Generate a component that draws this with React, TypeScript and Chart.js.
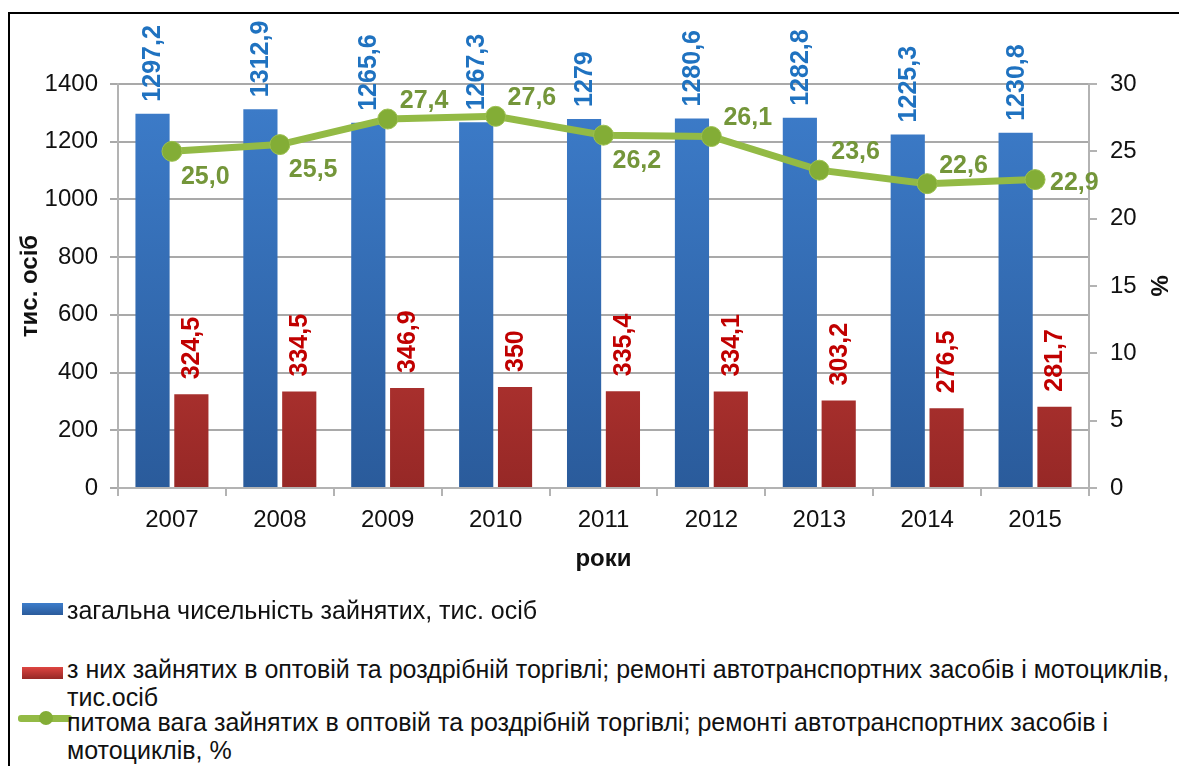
import React, { useEffect, useRef } from "react";
import { Chart, registerables } from "chart.js";

Chart.register(...registerables);

const years = ["2007", "2008", "2009", "2010", "2011", "2012", "2013", "2014", "2015"];
const totalEmployed = [1297.2, 1312.9, 1265.6, 1267.3, 1279, 1280.6, 1282.8, 1225.3, 1230.8];
const tradeEmployed = [324.5, 334.5, 346.9, 350, 335.4, 334.1, 303.2, 276.5, 281.7];
const tradeShare = [25.0, 25.5, 27.4, 27.6, 26.2, 26.1, 23.6, 22.6, 22.9];
const leftAxis = { min: 0, max: 1400, step: 200 };
const rightAxis = { min: 0, max: 30, step: 5 };
const sharePlacement = ["below", "below", "above", "above", "below", "above", "above", "above", "right"];

const seriesNames = [
  "загальна чисельність зайнятих, тис. осіб",
  "з них зайнятих в оптовій та роздрібній торгівлі; ремонті автотранспортних засобів і мотоциклів,|тис.осіб",
  "питома вага зайнятих в оптовій та роздрібній торгівлі; ремонті автотранспортних засобів і|мотоциклів, %",
];
const axisTitles = { left: "тис. осіб", right: "%", bottom: "роки" };

const FONT = "'Liberation Sans', Arial, sans-serif";
const BLUE_LABEL = "#1f72c0";
const RED_LABEL = "#c00000";
const GREEN_LABEL = "#74963a";

const fmtBar = (v: number) => String(v).replace(".", ",");
const fmtShare = (v: number) => v.toFixed(1).replace(".", ",");

function gradient(chart: any, top: string, bottom: string) {
  const area = chart.chartArea;
  if (!area) return top;
  const g = chart.ctx.createLinearGradient(0, area.top, 0, area.bottom);
  g.addColorStop(0, top);
  g.addColorStop(1, bottom);
  return g;
}

const labelPlugin = {
  id: "valueLabels",
  afterDatasetsDraw(chart: any) {
    const ctx = chart.ctx;
    ctx.save();
    const blue = chart.getDatasetMeta(0);
    const red = chart.getDatasetMeta(1);
    const line = chart.getDatasetMeta(2);
    ctx.font = `bold 25px ${FONT}`;
    ctx.textBaseline = "middle";
    ctx.textAlign = "left";
    blue.data.forEach((el: any, i: number) => {
      ctx.save();
      ctx.translate(el.x + 1, el.y - 12);
      ctx.rotate(-Math.PI / 2);
      ctx.fillStyle = BLUE_LABEL;
      ctx.fillText(fmtBar(totalEmployed[i]), 0, 0);
      ctx.restore();
    });
    red.data.forEach((el: any, i: number) => {
      ctx.save();
      ctx.translate(el.x + 1, el.y - 15);
      ctx.rotate(-Math.PI / 2);
      ctx.fillStyle = RED_LABEL;
      ctx.fillText(fmtBar(tradeEmployed[i]), 0, 0);
      ctx.restore();
    });
    ctx.font = `bold 25px ${FONT}`;
    ctx.fillStyle = GREEN_LABEL;
    line.data.forEach((el: any, i: number) => {
      const p = sharePlacement[i];
      let dx = 9, dy = 26;
      if (p === "above") { dx = 12; dy = -18; }
      if (p === "right") { dx = 15; dy = 3; }
      ctx.fillText(fmtShare(tradeShare[i]), el.x + dx, el.y + dy);
    });
    ctx.restore();
  },
};

function LegendRow({ top, icon, text }: { top: number; icon: React.ReactNode; text: string }) {
  const lines = text.split("|");
  return (
    <div style={{ position: "absolute", left: 0, top, width: 1179 }}>
      {icon}
      <div style={{ position: "absolute", left: 67, top: 0, font: `25px ${FONT}`, lineHeight: "28px", color: "#111", whiteSpace: "nowrap" }}>
        {lines.map((l, i) => (
          <div key={i}>{l}</div>
        ))}
      </div>
    </div>
  );
}

export default function App() {
  const ref = useRef<HTMLCanvasElement>(null);
  useEffect(() => {
    if (!ref.current) return;
    const chart = new Chart(ref.current, {
      type: "bar",
      data: {
        labels: years,
        datasets: [
          {
            type: "bar",
            label: seriesNames[0],
            data: totalEmployed,
            yAxisID: "y",
            backgroundColor: (c: any) => gradient(c.chart, "#3d7dcb", "#2a5b9b"),
            barPercentage: 0.88,
            categoryPercentage: 0.72,
            order: 2,
          },
          {
            type: "bar",
            label: seriesNames[1],
            data: tradeEmployed,
            yAxisID: "y",
            backgroundColor: (c: any) => gradient(c.chart, "#de4541", "#962826"),
            barPercentage: 0.88,
            categoryPercentage: 0.72,
            order: 2,
          },
          {
            type: "line",
            label: seriesNames[2],
            data: tradeShare,
            yAxisID: "y1",
            borderColor: "#93ba45",
            borderWidth: 7,
            backgroundColor: "#83ad36",
            pointRadius: 10,
            pointBorderWidth: 1,
            pointBorderColor: "#9cc050",
            tension: 0,
            order: 0,
          } as any,
        ],
      },
      options: {
        responsive: false,
        animation: false,
        devicePixelRatio: 1,
        layout: { padding: { top: 84, left: 0, right: 0, bottom: 0 } },
        plugins: { legend: { display: false }, tooltip: { enabled: false } },
        scales: {
          x: {
            grid: { offset: true, drawOnChartArea: false, drawTicks: true, tickLength: 8, color: "#b3b3b3", lineWidth: 2 },
            border: { color: "#b3b3b3", width: 2 },
            ticks: { font: { size: 24, family: FONT }, color: "#111", padding: 10 },
            title: { display: true, text: axisTitles.bottom, font: { size: 24, weight: "bold", family: FONT }, color: "#111", padding: { top: 0, bottom: 26 } },
            afterFit: (s: any) => { s.height = 112; },
          },
          y: {
            position: "left",
            min: leftAxis.min,
            max: leftAxis.max,
            ticks: { stepSize: leftAxis.step, font: { size: 24, family: FONT }, color: "#111", padding: 12, callback: (v: any) => String(v) },
            grid: { color: "#a9a9a9", lineWidth: 2, tickLength: 8 },
            border: { color: "#b3b3b3", width: 2 },
            title: { display: true, text: axisTitles.left, font: { size: 24, weight: "bold", family: FONT }, color: "#111", padding: { top: 16, bottom: 0 } },
            afterFit: (s: any) => { s.width = 118; },
          },
          y1: {
            position: "right",
            min: rightAxis.min,
            max: rightAxis.max,
            ticks: { stepSize: rightAxis.step, font: { size: 24, family: FONT }, color: "#111", padding: 13, callback: (v: any) => String(v) },
            grid: { drawOnChartArea: false, color: "#b3b3b3", lineWidth: 2, tickLength: 8 },
            border: { color: "#b3b3b3", width: 2 },
            title: { display: true, text: axisTitles.right, font: { size: 24, weight: "bold", family: FONT }, color: "#111", padding: { top: 7, bottom: 0 } },
            afterFit: (s: any) => { s.width = 90; },
          },
        },
      } as any,
      plugins: [labelPlugin],
    });
    return () => chart.destroy();
  }, []);

  return (
    <div style={{ position: "fixed", left: 0, top: 0, width: 1179, height: 766, overflow: "hidden", background: "#fff" }}>
      <div style={{ position: "absolute", left: 8, top: 12, width: 1200, height: 800, borderTop: "2px solid #000", borderLeft: "2px solid #000" }} />
      <canvas ref={ref} width={1179} height={600} style={{ position: "absolute", left: 0, top: 0, display: "block" }} />
      <LegendRow
        top={596}
        icon={<div style={{ position: "absolute", left: 22, top: 7, width: 41, height: 12, background: "linear-gradient(#3d7dcb,#2a5b9b)" }} />}
        text={seriesNames[0]}
      />
      <LegendRow
        top={655}
        icon={<div style={{ position: "absolute", left: 22, top: 12, width: 41, height: 12, background: "linear-gradient(#de4541,#962826)" }} />}
        text={seriesNames[1]}
      />
      <LegendRow
        top={708}
        icon={
          <div style={{ position: "absolute", left: 18, top: 2, width: 54, height: 16 }}>
            <div style={{ position: "absolute", left: 0, top: 5, width: 54, height: 7, background: "#93ba45", borderRadius: 3 }} />
            <div style={{ position: "absolute", left: 21, top: 1, width: 14, height: 14, borderRadius: 7, background: "#83ad36" }} />
          </div>
        }
        text={seriesNames[2]}
      />
    </div>
  );
}
